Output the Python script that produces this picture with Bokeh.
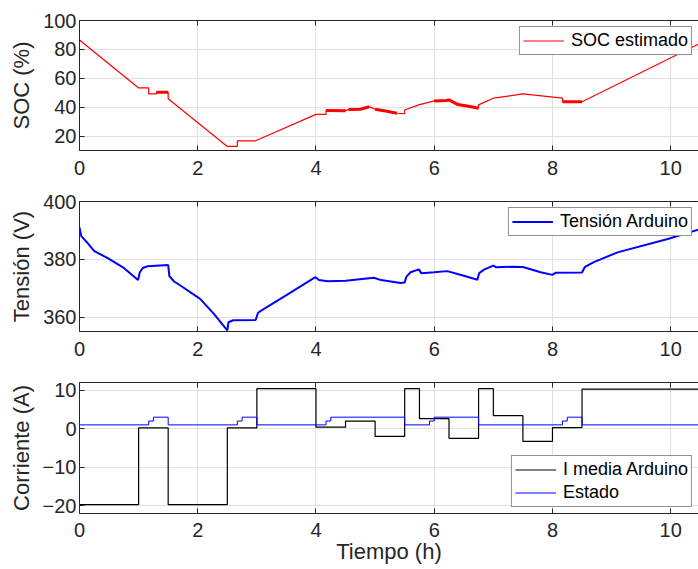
from bokeh.plotting import figure
from bokeh.layouts import column
from bokeh.models import Range1d, FixedTicker, LinearAxis
from bokeh.embed import file_html
from bokeh.resources import INLINE

# ---------------- data ----------------
soc_t = [0, 1.0, 1.17, 1.17, 1.3, 1.3, 1.5, 1.5, 2.5, 2.67, 2.67, 2.97, 4.0, 4.17, 4.17,
         4.5, 4.55, 4.75, 4.9, 4.95, 5.0, 5.2, 5.37, 5.5, 5.5, 5.75, 5.92, 6.0, 6.2, 6.25,
         6.4, 6.6, 6.75, 6.75, 7.0, 7.5, 8.17, 8.17, 8.5, 10.47]
soc_v = [86.5, 53.3, 53.3, 49.2, 49.2, 50.3, 50.3, 45.8, 12.8, 12.8, 16.6, 16.6, 35.0, 35.0, 37.8,
         37.6, 38.3, 38.6, 40.3, 39.5, 38.5, 37.2, 35.8, 35.5, 38.0, 41.8, 43.5, 44.3, 44.6, 45.0,
         41.8, 40.5, 39.2, 41.6, 46.2, 49.2, 46.3, 43.8, 43.8, 83.6]

# noisy (thick-looking) stretches of the SOC trace
soc_noise_t = [[1.3, 1.5], [4.17, 4.5], [4.55, 4.75, 4.9], [5.0, 5.2, 5.37],
               [6.0, 6.2, 6.25, 6.4, 6.6, 6.75], [8.17, 8.5]]
soc_noise_v = [[50.3, 50.3], [37.7, 37.6], [38.3, 38.6, 40.3], [38.5, 37.2, 35.8],
               [44.3, 44.6, 45.0, 41.8, 40.5, 39.2], [43.8, 43.8]]

volt_t = [0, 0.03, 0.12, 0.25, 0.47, 0.75, 0.99, 1.02, 1.07, 1.15, 1.5, 1.52, 1.6, 1.7, 2.04,
          2.27, 2.5, 2.52, 2.6, 2.98, 3.02, 3.08, 3.5, 3.99, 4.05, 4.2, 4.5, 4.98, 5.1, 5.43,
          5.5, 5.53, 5.6, 5.74, 5.78, 6.0, 6.22, 6.5, 6.73, 6.76, 6.85, 7.0, 7.05, 7.3, 7.5,
          7.8, 8.0, 8.05, 8.5, 8.55, 8.7, 9.1, 9.95, 10.47]
volt_v = [391.0, 388.0, 386.0, 382.8, 380.5, 377.0, 372.8, 375.5, 377.0, 377.6, 378.0, 374.2, 372.3, 371.0, 366.3,
          361.2, 355.4, 358.2, 358.9, 359.0, 361.5, 362.3, 367.6, 373.8, 372.8, 372.4, 372.6, 373.6, 372.8, 371.8,
          372.0, 374.0, 375.5, 376.5, 375.2, 375.5, 375.9, 374.3, 372.9, 375.2, 376.5, 377.8, 377.2, 377.4, 377.3,
          375.5, 374.6, 375.3, 375.4, 377.4, 379.0, 382.4, 387.0, 390.3]

curr_t = [0, 1.0, 1.5, 2.5, 3.0, 4.0, 4.5, 5.0, 5.5, 5.75, 6.25, 6.75, 7.0, 7.5, 8.0, 8.5, 10.47]
curr_v = [-19.7, 0.2, -19.7, 0.2, 10.4, 0.4, 2.0, -2.0, 10.4, 2.6, -2.5, 10.4, 3.4, -3.3, 0.3, 10.3, 10.3]

est_t = [0, 1.17, 1.25, 1.5, 2.67, 2.75, 3.0, 4.17, 4.25, 5.5, 5.92, 6.0, 6.75, 8.17, 8.25, 8.5, 10.47]
est_v = [1, 2, 3, 1, 2, 3, 1, 2, 3, 1, 2, 3, 1, 2, 3, 1, 1]

x_ticks = [0, 2, 4, 6, 8, 10]
soc_ticks = [20, 40, 60, 80, 100]
volt_ticks = [360, 380, 400]
curr_ticks = [-20, -10, 0, 10]

FONT = "Liberation Sans"
AX = "#262626"
GRID = "#e0e0e0"


def make_fig(height, top, bottom, yr, yticks, ylabel, xstand, xlabel=None):
    p = figure(width=698, height=height, output_backend="svg", toolbar_location=None,
               x_range=Range1d(0, 10.47), y_range=Range1d(*yr),
               min_border_left=79, min_border_right=0, min_border_top=top,
               min_border_bottom=bottom, background_fill_color="white",
               border_fill_color="white", outline_line_color=None)
    p.xaxis.ticker = FixedTicker(ticks=x_ticks)
    p.yaxis.ticker = FixedTicker(ticks=yticks)
    for ax in (p.xaxis[0], p.yaxis[0]):
        ax.axis_line_color = AX
        ax.major_tick_line_color = AX
        ax.major_tick_in = 5
        ax.major_tick_out = 0
        ax.minor_tick_line_color = None
        ax.major_label_text_font = FONT
        ax.major_label_text_font_size = "20px"
        ax.major_label_text_color = AX
        ax.axis_label_text_font = FONT
        ax.axis_label_text_font_size = "22px"
        ax.axis_label_text_font_style = "normal"
        ax.axis_label_text_color = AX
    p.yaxis.major_label_standoff = 3
    p.xaxis.major_label_standoff = xstand
    p.yaxis.axis_label = ylabel
    p.yaxis.axis_label_standoff = 6
    if xlabel:
        p.xaxis.axis_label = xlabel
        p.xaxis.axis_label_standoff = -1
    top_ax = LinearAxis(ticker=FixedTicker(ticks=x_ticks), major_tick_in=5, major_tick_out=0,
                        major_label_text_color=None, major_label_text_font_size="1px",
                        major_label_standoff=0, axis_line_color=AX,
                        major_tick_line_color=AX, minor_tick_line_color=None)
    p.add_layout(top_ax, "above")
    p.grid.grid_line_color = GRID
    p.grid.grid_line_width = 1
    return p


p1 = make_fig(189, 20, 39, (10, 100), soc_ticks, "SOC (%)", 10)
p1.line(soc_t, soc_v, color="red", line_width=1.2, legend_label="SOC estimado")
p1.multi_line(soc_noise_t, soc_noise_v, color="red", line_width=3)

p2 = make_fig(184, 12, 42, (355, 400), volt_ticks, "Tensión (V)", 10)
p2.line(volt_t, volt_v, color="blue", line_width=2, legend_label="Tensión Arduino")

p3 = make_fig(196, 9, 56, (-22, 12), curr_ticks, "Corriente (A)", 9, "Tiempo (h)")
p3.step(curr_t, curr_v, mode="after", color="black", line_width=1.2, legend_label="I media Arduino")
p3.step(est_t, est_v, mode="after", color="blue", line_width=1, legend_label="Estado")

for p, loc in ((p1, "top_right"), (p2, "top_right"), (p3, "bottom_right")):
    lg = p.legend[0]
    lg.location = loc
    lg.margin = 6
    lg.padding = 3
    lg.spacing = 2
    lg.glyph_width = 41
    lg.glyph_height = 21
    lg.label_height = 21
    lg.label_standoff = 7
    lg.label_text_font = FONT
    lg.label_text_font_size = "18px"
    lg.label_text_color = "black"
    lg.border_line_color = AX
    lg.border_line_width = 1
    lg.background_fill_alpha = 1
    lg.background_fill_color = "white"

layout = column(p1, p2, p3, spacing=0)
open("out.html", "w").write(file_html(layout, INLINE))
